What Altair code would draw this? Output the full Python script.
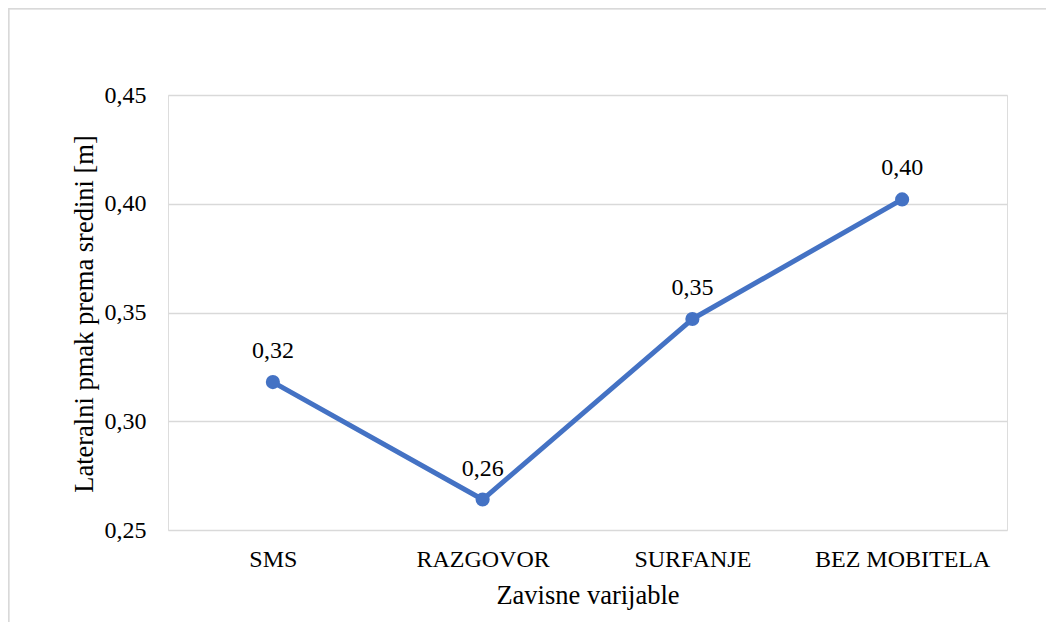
import altair as alt
import pandas as pd

categories = ["SMS", "RAZGOVOR", "SURFANJE", "BEZ MOBITELA"]
values = [0.318, 0.264, 0.347, 0.402]
y_ticks = [0.25, 0.30, 0.35, 0.40, 0.45]

df = pd.DataFrame({"cat": categories, "v": values})

FONT = "Liberation Serif"
BLUE = "#4472C4"
GRID = "#d9d9d9"

x_enc = alt.X(
    "cat:N",
    sort=categories,
    scale=alt.Scale(type="point", padding=0.5),
    axis=alt.Axis(
        title="Zavisne varijable",
        labelAngle=0,
        domain=False,
        ticks=False,
        tickSize=0,
        grid=False,
        labelPadding=36,
        labelBaseline="alphabetic",
        titleBaseline="alphabetic",
        titleY=73,
    ),
)

y_enc = alt.Y(
    "v:Q",
    scale=alt.Scale(domain=[0.25, 0.45], nice=False, zero=False),
    axis=alt.Axis(
        title="Lateralni pmak prema sredini [m]",
        values=y_ticks,
        labelExpr="replace(format(datum.value, '.2f'), '.', ',')",
        domain=False,
        ticks=False,
        tickSize=0,
        grid=True,
        gridColor=GRID,
        gridWidth=1.5,
        labelPadding=22,
        titleAngle=270,
        titleAlign="center",
        titleBaseline="alphabetic",
        titleX=-76,
        titleY=218.5,
    ),
)

base = alt.Chart(df)

line = base.mark_line(color=BLUE, strokeWidth=5, strokeJoin="round", strokeCap="round").encode(
    x=x_enc, y=y_enc
)
points = base.mark_point(filled=True, color=BLUE, size=200, opacity=1).encode(x=x_enc, y=y_enc)
labels = (
    base.transform_calculate(lbl="replace(format(datum.v, '.2f'), '.', ',')")
    .mark_text(font=FONT, fontSize=24, color="#000000", baseline="alphabetic", dy=-24)
    .encode(x=x_enc, y=y_enc, text="lbl:N")
)

frame_top = base.mark_rule(color=GRID, strokeWidth=1.5).encode(
    x=alt.value(-159.5), x2=alt.value(900), y=alt.value(-86.5)
)
frame_left = base.mark_rule(color=GRID, strokeWidth=1.5).encode(
    x=alt.value(-159.5), y=alt.value(-86.5), y2=alt.value(540)
)

chart = (
    alt.layer(frame_top, frame_left, line, points, labels)
    .properties(
        width=839,
        height=435,
        autosize=alt.AutoSizeParams(type="none"),
        padding={"left": 160, "top": 87, "right": 39, "bottom": 92},
    )
    .configure_view(stroke=None)
    .configure(background="white", font=FONT)
    .configure_axis(
        labelFont=FONT,
        labelFontSize=24,
        labelColor="#000000",
        titleFont=FONT,
        titleFontSize=26.5,
        titleFontWeight="normal",
        titleColor="#000000",
    )
    .configure_text(font=FONT)
)

chart.save("out.html", embed_options={"renderer": "svg", "actions": False})
